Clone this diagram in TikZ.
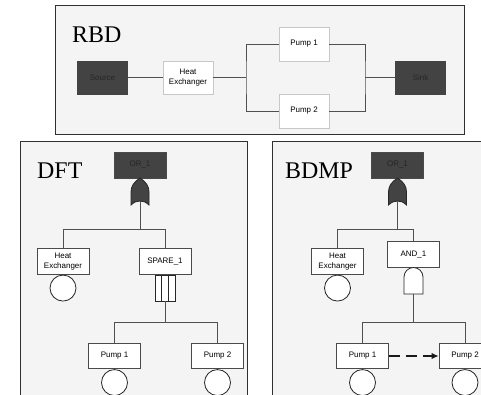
\documentclass[tikz,border=0pt]{standalone}
\usepackage{fontspec}
\setmainfont{Liberation Serif}
\newfontfamily\boxfont{Liberation Sans}
\usetikzlibrary{arrows.meta}
\definecolor{panelbg}{HTML}{F4F4F4}
\definecolor{panelline}{HTML}{303030}
\definecolor{darkfill}{HTML}{434343}
\definecolor{boxline}{HTML}{4A4A4A}
\definecolor{rbdbox}{HTML}{C8C8C8}
\definecolor{wire}{HTML}{505050}
\tikzset{
  panel/.style={fill=panelbg, draw=panelline, line width=1bp},
  title/.style={anchor=base west, inner sep=0pt, font=\fontsize{24}{24}\selectfont},
  rbdblock/.style={draw=rbdbox, fill=white, line width=0.8bp, minimum width=50bp, minimum height=33bp, inner sep=1bp, align=center, font=\boxfont\fontsize{8}{9.5}\selectfont},
  rbddark/.style={rbdblock, fill=darkfill, draw=darkfill, text=black!85},
  ftbox/.style={draw=boxline, fill=white, line width=0.8bp, minimum width=52bp, minimum height=25.5bp, inner sep=1bp, align=center, font=\boxfont\fontsize{8}{9.5}\selectfont},
  ftdark/.style={ftbox, fill=darkfill, draw=boxline, text=black!85, minimum height=26bp},
  evt/.style={circle, draw=black!85, fill=white, line width=0.8bp, minimum size=26bp, inner sep=0pt, anchor=north},
  conn/.style={draw=wire, line width=0.8bp},
  gateline/.style={draw=black!85, line width=0.8bp}
}
\begin{document}
\begin{tikzpicture}[x=1bp,y=-1bp]
\clip (0,0) rectangle (481,394);
\fill[white] (0,0) rectangle (481,394);

% ---------- RBD panel ----------
\draw[panel] (55,5) rectangle (464,134);
\node[title] (trbd) at (72,42) {RBD};
\node[rbddark] (rsrc) at (102.5,77.5) {Source};
\node[rbdblock] (rhe) at (188,77.5) {Heat\\Exchanger};
\node[rbdblock, minimum height=34bp] (rp1) at (304,44) {Pump 1};
\node[rbdblock, minimum height=34bp] (rp2) at (304,111) {Pump 2};
\node[rbddark] (rsink) at (420.5,77.5) {Sink};
\coordinate (rsplit) at (246,77.5);
\coordinate (rmerge) at (365,77.5);
\draw[conn] (rsrc) -- (rhe);
\draw[conn] (rhe.east) -- (rsplit);
\draw[conn] (rp1.west) -| (rsplit) |- (rp2.west);
\draw[conn] (rp1.east) -| (rmerge) |- (rp2.east);
\draw[conn] (rmerge) -- (rsink.west);

% ---------- DFT panel ----------
\draw[panel] (20,141) rectangle (247,410);
\node[title] (tdft) at (37,178) {DFT};
\node[ftdark] (dor) at (140,165) {OR\_1};
\filldraw[fill=darkfill, gateline] (140,178) .. controls (146,182) and (149,186) .. (149,192) -- (149,205)
  .. controls (146,202) and (143,201) .. (140,201) .. controls (137,201) and (134,202) .. (131,205)
  -- (131,192) .. controls (131,186) and (134,182) .. (140,178) -- cycle;
\coordinate (dorg) at (140,201);
\coordinate (dj1) at (140,229);
\node[ftbox] (dhe) at (63,261.5) {Heat\\Exchanger};
\node[ftbox] (dsp) at (165,261.5) {SPARE\_1};
\node[evt] (dhee) at (dhe.south) {};
\node[draw=black!85, fill=white, line width=0.8bp, minimum width=20bp, minimum height=26bp, inner sep=0pt, anchor=north] (dspg) at (dsp.south) {};
\draw[gateline] ([xshift=-3.3bp]dspg.north) -- ([xshift=-3.3bp]dspg.south);
\draw[gateline] ([xshift=3.3bp]dspg.north) -- ([xshift=3.3bp]dspg.south);
\coordinate (dj2) at (165,322);
\node[ftbox] (dp1) at (114.5,356) {Pump 1};
\node[ftbox] (dp2) at (217.5,356) {Pump 2};
\node[evt] (dp1e) at (dp1.south) {};
\node[evt] (dp2e) at (dp2.south) {};
\draw[conn] (dorg) -- (dj1);
\draw[conn] (dhe.north) |- (dj1);
\draw[conn] (dsp.north) |- (dj1);
\draw[conn] (dspg.south) -- (dj2);
\draw[conn] (dp1.north) |- (dj2);
\draw[conn] (dp2.north) |- (dj2);

% ---------- BDMP panel ----------
\draw[panel] (272,141) rectangle (500,410);
\node[title] (tbdmp) at (285,178) {BDMP};
\node[ftdark] (bor) at (397.5,165) {OR\_1};
\filldraw[fill=darkfill, gateline] (397.5,178) .. controls (403.5,182) and (406.5,186) .. (406.5,192) -- (406.5,205)
  .. controls (403.5,202) and (400.5,201) .. (397.5,201) .. controls (394.5,201) and (391.5,202) .. (388.5,205)
  -- (388.5,192) .. controls (388.5,186) and (391.5,182) .. (397.5,178) -- cycle;
\coordinate (borg) at (397.5,201);
\coordinate (bj1) at (397.5,229);
\node[ftbox] (bhe) at (337.5,261.5) {Heat\\Exchanger};
\node[evt] (bhee) at (bhe.south) {};
\node[ftbox] (band) at (413.5,254.5) {AND\_1};
\filldraw[fill=white, gateline] (404,294) -- (404,277) .. controls (404,271.8) and (408.3,267.5) .. (413.5,267.5)
  .. controls (418.7,267.5) and (423,271.8) .. (423,277) -- (423,294) -- cycle;
\coordinate (bandg) at (413.5,294);
\coordinate (bj2) at (413.5,322);
\node[ftbox] (bp1) at (362.5,356) {Pump 1};
\node[ftbox] (bp2) at (465,356) {Pump 2};
\node[evt] (bp1e) at (bp1.south) {};
\node[evt] (bp2e) at (bp2.south) {};
\draw[conn] (borg) -- (bj1);
\draw[conn] (bhe.north) |- (bj1);
\draw[conn] (band.north) |- (bj1);
\draw[conn] (bandg) -- (bj2);
\draw[conn] (bp1.north) |- (bj2);
\draw[conn] (bp2.north) |- (bj2);
\draw[draw=black!90, line width=1.2bp, dash pattern=on 11bp off 6bp, -{Latex[length=7bp,width=6.5bp]}] (bp1.east) -- (bp2.west);
\end{tikzpicture}
\end{document}
